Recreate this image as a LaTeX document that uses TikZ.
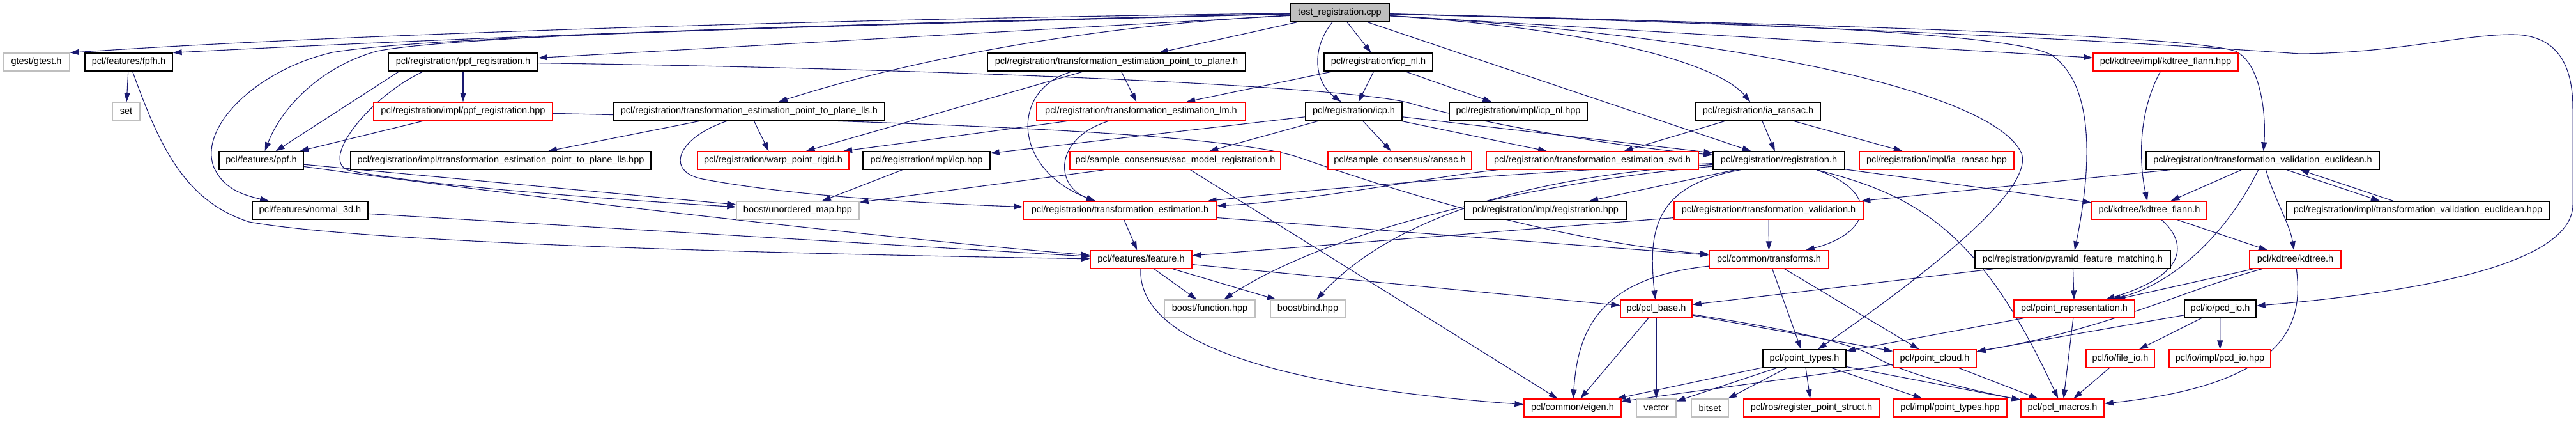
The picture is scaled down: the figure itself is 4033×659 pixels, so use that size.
\documentclass[tikz,border=0pt]{standalone}
\usepackage{fontspec}
\setmainfont{Liberation Sans}
\usetikzlibrary{arrows.meta}
\definecolor{edgec}{HTML}{191970}
\definecolor{grayb}{HTML}{BFBFBF}
\pgfdeclarelayer{bg}
\pgfsetlayers{bg,main}
\begin{document}
\begin{tikzpicture}[x=1pt,y=-1pt,
  box/.style={draw, line width=1.3pt, minimum height=28pt, inner sep=0pt, fill=white, font=\fontsize{14.5}{17}\selectfont},
  bbox/.style={box, draw=black},
  rbox/.style={box, draw=red},
  gbox/.style={box, draw=grayb},
  mbox/.style={box, draw=black, fill=grayb},
  lnk/.style={draw=edgec, line width=1.1pt, -{Triangle[length=14pt,width=9pt]}}]
\useasboundingbox (0,0) rectangle (4033,659);
% row 1
\node[mbox, minimum width=155pt] (main) at (2097.5,20) {test\_registration.cpp};
% row 2
\node[gbox, minimum width=104pt] (gtest) at (57,97) {gtest/gtest.h};
\node[bbox, minimum width=137pt] (fpfh) at (201.5,97) {pcl/features/fpfh.h};
\node[bbox, minimum width=234pt] (ppfreg) at (725,97) {pcl/registration/ppf\_registration.h};
\node[bbox, minimum width=404pt] (p2p) at (1748,97) {pcl/registration/transformation\_estimation\_point\_to\_plane.h};
\node[bbox, minimum width=170pt] (icpnl) at (2158,97) {pcl/registration/icp\_nl.h};
\node[rbox, minimum width=227pt] (kdflannhpp) at (3390.5,97) {pcl/kdtree/impl/kdtree\_flann.hpp};
% row 3
\node[gbox, minimum width=43pt] (set) at (197.5,174) {set};
\node[rbox, minimum width=280pt] (ppfreghpp) at (725,174) {pcl/registration/impl/ppf\_registration.hpp};
\node[bbox, minimum width=424pt] (lls) at (1173,174) {pcl/registration/transformation\_estimation\_point\_to\_plane\_lls.h};
\node[rbox, minimum width=327pt] (lm) at (1786.5,174) {pcl/registration/transformation\_estimation\_lm.h};
\node[bbox, minimum width=151pt] (icp) at (2119.5,174) {pcl/registration/icp.h};
\node[bbox, minimum width=216pt] (icpnlhpp) at (2377,174) {pcl/registration/impl/icp\_nl.hpp};
\node[bbox, minimum width=195pt] (iaransac) at (2752.5,174) {pcl/registration/ia\_ransac.h};
% row 4
\node[bbox, minimum width=132pt] (ppf) at (409,251) {pcl/features/ppf.h};
\node[bbox, minimum width=470pt] (llshpp) at (784,251) {pcl/registration/impl/transformation\_estimation\_point\_to\_plane\_lls.hpp};
\node[rbox, minimum width=237pt] (warp) at (1210.5,251) {pcl/registration/warp\_point\_rigid.h};
\node[bbox, minimum width=199pt] (icphpp) at (1450.5,251) {pcl/registration/impl/icp.hpp};
\node[rbox, minimum width=330pt] (sacreg) at (1840,251) {pcl/sample\_consensus/sac\_model\_registration.h};
\node[rbox, minimum width=225pt] (ransac) at (2191.5,251) {pcl/sample\_consensus/ransac.h};
\node[rbox, minimum width=332pt] (svd) at (2493,251) {pcl/registration/transformation\_estimation\_svd.h};
\node[bbox, minimum width=206pt] (reg) at (2785,251) {pcl/registration/registration.h};
\node[rbox, minimum width=242pt] (iaransachpp) at (3032,251) {pcl/registration/impl/ia\_ransac.hpp};
\node[bbox, minimum width=365pt] (tveuc) at (3542.5,251) {pcl/registration/transformation\_validation\_euclidean.h};
% row 5
\node[bbox, minimum width=181pt] (normal3d) at (485.5,329) {pcl/features/normal\_3d.h};
\node[gbox, minimum width=192pt] (umap) at (1249,329) {boost/unordered\_map.hpp};
\node[rbox, minimum width=303pt] (te) at (1753.5,329) {pcl/registration/transformation\_estimation.h};
\node[bbox, minimum width=253pt] (reghpp) at (2419.5,329) {pcl/registration/impl/registration.hpp};
\node[rbox, minimum width=296pt] (tv) at (2769,329) {pcl/registration/transformation\_validation.h};
\node[rbox, minimum width=180pt] (kdflann) at (3365,329) {pcl/kdtree/kdtree\_flann.h};
\node[bbox, minimum width=411pt] (tveuchpp) at (3785.5,329) {pcl/registration/impl/transformation\_validation\_euclidean.hpp};
% row 6
\node[rbox, minimum width=159pt] (feature) at (1786.5,406) {pcl/features/feature.h};
\node[rbox, minimum width=187pt] (transforms) at (2769.5,406) {pcl/common/transforms.h};
\node[bbox, minimum width=306pt] (pyramid) at (3245,406) {pcl/registration/pyramid\_feature\_matching.h};
\node[rbox, minimum width=143pt] (kdtree) at (3593.5,406) {pcl/kdtree/kdtree.h};
% row 7
\node[gbox, minimum width=142pt] (bfunc) at (1894,483) {boost/function.hpp};
\node[gbox, minimum width=117pt] (bbind) at (2047.5,483) {boost/bind.hpp};
\node[rbox, minimum width=112pt] (pclbase) at (2593,483) {pcl/pcl\_base.h};
\node[rbox, minimum width=189pt] (pointrep) at (3247.5,483) {pcl/point\_representation.h};
\node[bbox, minimum width=112pt] (pcdio) at (3476,483) {pcl/io/pcd\_io.h};
% row 8
\node[bbox, minimum width=130pt] (pointtypes) at (2825,561) {pcl/point\_types.h};
\node[rbox, minimum width=130pt] (pointcloud) at (3029,561) {pcl/point\_cloud.h};
\node[rbox, minimum width=107pt] (fileio) at (3319.5,561) {pcl/io/file\_io.h};
\node[rbox, minimum width=159pt] (pcdiohpp) at (3475.5,561) {pcl/io/impl/pcd\_io.hpp};
% row 9
\node[rbox, minimum width=152pt] (eigen) at (2462,638) {pcl/common/eigen.h};
\node[gbox, minimum width=62pt] (vector) at (2593,638) {vector};
\node[gbox, minimum width=58pt] (bitset) at (2677,638) {bitset};
\node[rbox, minimum width=212pt] (rps) at (2836,638) {pcl/ros/register\_point\_struct.h};
\node[rbox, minimum width=178pt] (pthpp) at (3053,638) {pcl/impl/point\_types.hpp};
\node[rbox, minimum width=130pt] (macros) at (3229,638) {pcl/pcl\_macros.h};

\begin{pgfonlayer}{bg}
% from main
\draw[lnk] (main) .. controls (1400,28) and (600,50) .. (gtest.north east);
\draw[lnk] (main) .. controls (1400,35) and (800,55) .. (fpfh.north east);
\draw[lnk] (main) .. controls (1100,45) and (650,60) .. (520,82) .. controls (400,110) and (310,200) .. (335,262) .. controls (350,295) and (380,305) .. (normal3d);
\draw[lnk] (main) .. controls (1200,40) and (700,58) .. (590,80) .. controls (500,105) and (440,170) .. (ppf);
\draw[lnk] (main) -- (ppfreg);
\draw[lnk] (main) .. controls (1700,40) and (1420,95) .. (lls);
\draw[lnk] (main) -- (p2p);
\draw[lnk] (main) -- (icpnl);
\draw[lnk] (main) .. controls (2050,80) and (2060,130) .. (icp);
\draw[lnk] (main) -- (reg);
\draw[lnk] (main) .. controls (2500,45) and (2690,100) .. (iaransac);
\draw[lnk] (main) -- (kdflannhpp);
\draw[lnk] (main) .. controls (2800,35) and (3150,55) .. (3210,85) .. controls (3280,130) and (3275,260) .. (pyramid);
\draw[lnk] (main) .. controls (2700,55) and (3120,140) .. (3165,240) .. controls (3185,300) and (3000,440) .. (pointtypes);
\draw[lnk] (main) .. controls (2900,40) and (3420,55) .. (3500,80) .. controls (3540,100) and (3548,180) .. (tveuc);
\draw[lnk] (main) .. controls (2900,40) and (3400,70) .. (3600,84) .. controls (3750,83) and (3850,55) .. (3930,54) .. controls (4010,53) and (4028,110) .. (4028,170) -- (4028,320) .. controls (4028,420) and (3750,460) .. (pcdio);
% ppf registration
\draw[lnk] ([xshift=-100]ppfreg.south) -- (ppf);
\draw[lnk] (ppfreg) -- (ppfreghpp);
\draw[lnk] (ppfreg) .. controls (1500,108) and (2120,135) .. (2210,162) .. controls (2260,178) and (2480,225) .. (reg);
\draw[lnk] ([xshift=-62]ppfreg.south) .. controls (580,150) and (500,250) .. (545,266) .. controls (650,290) and (1000,315) .. (umap);
\draw[lnk] (ppfreghpp) -- (ppf);
\draw[lnk] (ppfreghpp) .. controls (1400,190) and (1900,205) .. (2030,245) .. controls (2160,290) and (2420,375) .. (transforms);
% features
\draw[lnk] (fpfh) -- (set);
\draw[lnk] ([xshift=6]fpfh.south) .. controls (250,230) and (290,315) .. (390,347) .. controls (600,385) and (1400,400) .. (feature);
\draw[lnk] (normal3d) -- (feature);
\draw[lnk] (ppf) .. controls (700,292) and (1300,365) .. (feature);
\draw[lnk] (ppf) -- (umap);
% lls, p2p, lm
\draw[lnk] (lls) -- (llshpp);
\draw[lnk] (lls) -- (warp);
\draw[lnk] ([xshift=-33]lls.south) .. controls (1060,215) and (1040,268) .. (1100,280) .. controls (1250,308) and (1450,318) .. (te);
\draw[lnk] (p2p) -- (lm);
\draw[lnk] (p2p) -- (warp);
\draw[lnk] ([xshift=-69]p2p.south) .. controls (1580,140) and (1585,265) .. (te);
\draw[lnk] (lm) -- (warp);
\draw[lnk] (lm) .. controls (1650,215) and (1650,290) .. (te);
% icp
\draw[lnk] (icpnl) -- (icp);
\draw[lnk] (icpnl) -- (icpnlhpp);
\draw[lnk] (icpnl) -- (lm);
\draw[lnk] (icp) -- (icphpp);
\draw[lnk] (icp) -- (sacreg);
\draw[lnk] (icp) -- (ransac);
\draw[lnk] (icp) -- (svd);
\draw[lnk] (icp) -- (reg);
\draw[lnk] (iaransac) -- (reg);
\draw[lnk] (iaransac) -- (svd);
\draw[lnk] (iaransac) -- (iaransachpp);
\draw[lnk] (icphpp) -- (umap);
\draw[lnk] (sacreg) -- (umap);
\draw[lnk] (sacreg) -- (eigen);
\draw[lnk] (svd) .. controls (2250,275) and (2050,315) .. (te);
% registration.h
\draw[lnk] (reg) .. controls (2400,268) and (2100,292) .. (te);
\draw[lnk] (reg) .. controls (2400,285) and (2080,360) .. (bfunc);
\draw[lnk] (reg) .. controls (2450,272) and (2200,320) .. (bbind);
\draw[lnk] (reg) -- (reghpp);
\draw[lnk] ([xshift=-60]reg.south) .. controls (2590,290) and (2580,360) .. (pclbase);
\draw[lnk] ([xshift=59]reg.south) .. controls (2945,300) and (2930,365) .. (transforms);
\draw[lnk] ([xshift=59]reg.south) .. controls (3000,305) and (3100,360) .. (macros);
\draw[lnk] (reg) -- (kdflann);
% transformation estimation / feature
\draw[lnk] (te) -- (feature);
\draw[lnk] (te) -- (transforms);
\draw[lnk] (feature) -- (bfunc);
\draw[lnk] (feature) -- (bbind);
\draw[lnk] (feature) -- (pclbase);
\draw[lnk] (feature) .. controls (1780,560) and (2100,612) .. (eigen);
\draw[lnk] (tv) -- (transforms);
\draw[lnk] (tv) -- (feature);
% validation euclidean
\draw[lnk] (tveuc) -- (tv);
\draw[lnk] (tveuc) -- (kdflann);
\draw[lnk] ([xshift=5]tveuc.south) .. controls (3560,310) and (3585,350) .. (kdtree);
\draw[lnk] ([xshift=37.5]tveuc.south) -- ([xshift=-59.5]tveuchpp.north);
\draw[lnk] ([xshift=-38.5]tveuchpp.north) -- ([xshift=58.5]tveuc.south);
\draw[lnk] ([xshift=-7]tveuc.south) .. controls (3500,340) and (3420,440) .. (pointrep);
% kdtree
\draw[lnk] (kdflannhpp) .. controls (3345,180) and (3350,260) .. (kdflann);
\draw[lnk] (kdflann) -- (kdtree);
\draw[lnk] ([xshift=19]kdflann.south) .. controls (3425,380) and (3425,430) .. (pointrep);
\draw[lnk] (kdtree) -- (pointrep);
\draw[lnk] ([xshift=-52]kdtree.south) .. controls (3430,450) and (3300,515) .. (pointcloud);
\draw[lnk] (kdtree) .. controls (3605,500) and (3590,600) .. (macros);
\draw[lnk] (pyramid) -- (pointrep);
\draw[lnk] (pyramid) -- (pclbase);
% lower part
\draw[lnk] (pclbase) -- (eigen);
\draw[lnk] (pclbase) -- (vector);
\draw[lnk] (pclbase) -- (pointcloud);
\draw[lnk] (pclbase) .. controls (2800,515) and (2890,535) .. (2930,555) .. controls (2970,580) and (3060,605) .. (macros);
\draw[lnk] (transforms) .. controls (2500,435) and (2470,520) .. (eigen);
\draw[lnk] (transforms) -- (pointtypes);
\draw[lnk] (transforms) -- (pointcloud);
\draw[lnk] (pointtypes) -- (rps);
\draw[lnk] (pointtypes) -- (pthpp);
\draw[lnk] (pointtypes) -- (macros);
\draw[lnk] (pointtypes) -- (eigen);
\draw[lnk] (pointtypes) -- (vector);
\draw[lnk] (pointtypes) -- (bitset);
\draw[lnk] (pointcloud) -- (eigen);
\draw[lnk] (pointcloud) -- (macros);
\draw[lnk] (pointrep) -- (pointtypes);
\draw[lnk] (pointrep) -- (macros);
\draw[lnk] (fileio) -- (macros);
\draw[lnk] (pcdio) -- (pcdiohpp);
\draw[lnk] (pcdio) -- (pointcloud);
\draw[lnk] (pcdio) -- (fileio);
\end{pgfonlayer}
\end{tikzpicture}
\end{document}
